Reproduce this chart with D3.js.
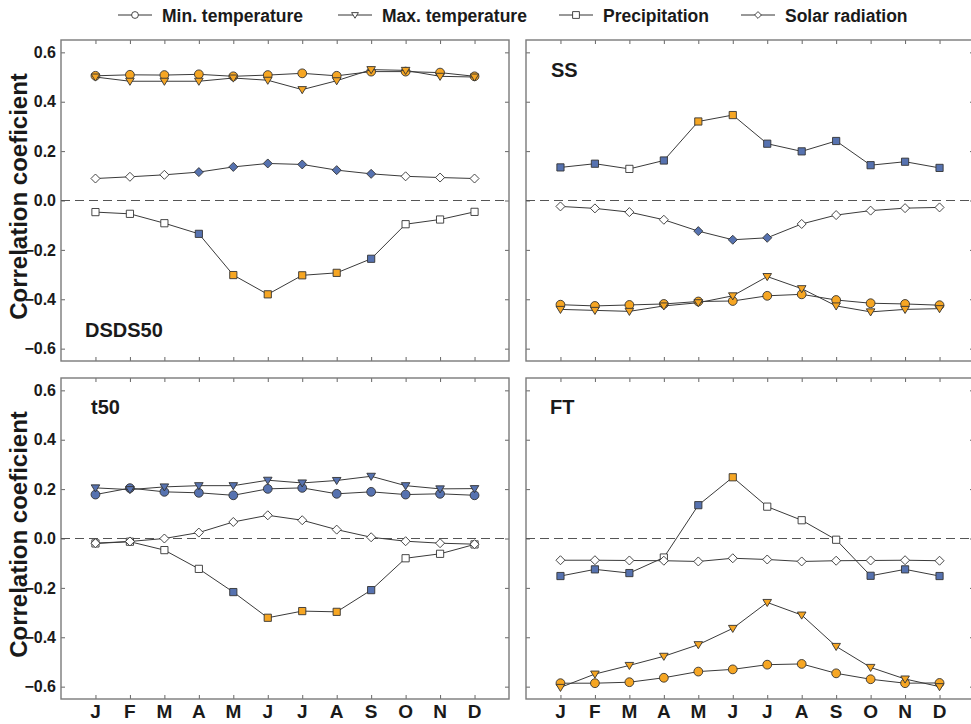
<!DOCTYPE html>
<html>
<head>
<meta charset="utf-8">
<script src="https://cdn.jsdelivr.net/npm/d3@7"></script>
<style>
  body { margin: 0; background: #fff; }
  text { font-family: "Liberation Sans", Arial, sans-serif; font-weight: bold; fill: #1a1a1a; }
</style>
</head>
<body>
<svg id="chart" width="971" height="724"></svg>
<script>
// month ticks and y ticks
const months = ["J", "F", "M", "A", "M", "J", "J", "A", "S", "O", "N", "D"];
const yTicks = [-0.6, -0.4, -0.2, 0.0, 0.2, 0.4, 0.6];

// DSDS50
const dsdsMin = [0.505, 0.509, 0.508, 0.511, 0.503, 0.508, 0.515, 0.505, 0.522, 0.522, 0.518, 0.503];
const dsdsMax = [0.500, 0.483, 0.483, 0.483, 0.496, 0.487, 0.449, 0.485, 0.530, 0.527, 0.503, 0.500];
const dsdsPrec = [-0.047, -0.054, -0.092, -0.135, -0.302, -0.380, -0.303, -0.293, -0.236, -0.096, -0.077, -0.046];
const dsdsSolar = [0.089, 0.096, 0.104, 0.115, 0.136, 0.150, 0.146, 0.123, 0.108, 0.098, 0.093, 0.089];
const dsdsMinSig = ["o","o","o","o","o","o","o","o","o","o","o","o"];
const dsdsMaxSig = ["o","o","o","o","o","o","o","o","o","o","o","o"];
const dsdsPrecSig = ["w","w","w","b","o","o","o","o","b","w","w","w"];
const dsdsSolarSig = ["w","w","w","b","b","b","b","b","b","w","w","w"];

// SS
const ssMin = [-0.422, -0.427, -0.423, -0.419, -0.409, -0.407, -0.386, -0.380, -0.403, -0.416, -0.419, -0.424];
const ssMax = [-0.441, -0.445, -0.449, -0.427, -0.414, -0.386, -0.308, -0.357, -0.427, -0.451, -0.441, -0.438];
const ssPrec = [0.134, 0.149, 0.128, 0.162, 0.320, 0.346, 0.230, 0.199, 0.241, 0.143, 0.157, 0.132];
const ssSolar = [-0.024, -0.032, -0.047, -0.078, -0.124, -0.159, -0.151, -0.095, -0.059, -0.041, -0.031, -0.028];
const ssMinSig = ["o","o","o","o","o","o","o","o","o","o","o","o"];
const ssMaxSig = ["o","o","o","o","o","o","o","o","o","o","o","o"];
const ssPrecSig = ["b","b","w","b","o","o","b","b","b","b","b","b"];
const ssSolarSig = ["w","w","w","w","b","b","b","w","w","w","w","w"];

// t50
const t50Min = [0.178, 0.204, 0.189, 0.185, 0.175, 0.201, 0.205, 0.181, 0.189, 0.178, 0.181, 0.175];
const t50Max = [0.205, 0.198, 0.209, 0.214, 0.214, 0.236, 0.225, 0.235, 0.252, 0.214, 0.201, 0.202];
const t50Prec = [-0.020, -0.013, -0.047, -0.123, -0.217, -0.321, -0.294, -0.297, -0.209, -0.080, -0.062, -0.024];
const t50Solar = [-0.019, -0.012, 0.000, 0.024, 0.067, 0.094, 0.074, 0.036, 0.005, -0.011, -0.019, -0.023];
const t50MinSig = ["b","b","b","b","b","b","b","b","b","b","b","b"];
const t50MaxSig = ["b","b","b","b","b","b","b","b","b","b","b","b"];
const t50PrecSig = ["w","w","w","w","b","o","o","o","b","w","w","w"];
const t50SolarSig = ["w","w","w","w","w","w","w","w","w","w","w","w"];

// FT
const ftMin = [-0.586, -0.586, -0.582, -0.564, -0.539, -0.530, -0.511, -0.508, -0.546, -0.570, -0.586, -0.585];
const ftMax = [-0.603, -0.549, -0.514, -0.477, -0.430, -0.364, -0.259, -0.310, -0.437, -0.522, -0.569, -0.600];
const ftPrec = [-0.152, -0.125, -0.140, -0.077, 0.135, 0.248, 0.129, 0.074, -0.005, -0.151, -0.125, -0.152];
const ftSolar = [-0.088, -0.088, -0.089, -0.090, -0.093, -0.080, -0.085, -0.093, -0.090, -0.089, -0.088, -0.090];
const ftMinSig = ["o","o","o","o","o","o","o","o","o","o","o","o"];
const ftMaxSig = ["o","o","o","o","o","o","o","o","o","o","o","o"];
const ftPrecSig = ["b","b","b","w","b","o","w","w","w","b","b","b"];
const ftSolarSig = ["w","w","w","w","w","w","w","w","w","w","w","w"];

const legendNames = ["Min. temperature", "Max. temperature", "Precipitation", "Solar radiation"];

const FILL = { o: "#f6a623", b: "#5672b0", w: "#ffffff" };
const PANEL_W = 448;
const PANEL_H = 321;

// custom marker shapes, size = half width in px
const symCircle = { draw(ctx, r) { ctx.moveTo(r, 0); ctx.arc(0, 0, r, 0, 2 * Math.PI); } };
const symTriangle = { draw(ctx, r) { ctx.moveTo(-r, -r * 0.7); ctx.lineTo(r, -r * 0.7); ctx.lineTo(0, r * 0.95); ctx.closePath(); } };
const symSquare = { draw(ctx, r) { ctx.rect(-r, -r, 2 * r, 2 * r); } };
const symDiamond = { draw(ctx, r) { ctx.moveTo(0, -r); ctx.lineTo(r, 0); ctx.lineTo(0, r); ctx.lineTo(-r, 0); ctx.closePath(); } };
const shapes = [symCircle, symTriangle, symSquare, symDiamond];
const shapeSize = [4.4, 4.3, 3.6, 4.5];

const panels = [
  { label: "DSDS50", x: 61, y: 40, lx: 24, ly: 297, yAxis: true, xAxis: false,
    series: [[dsdsMin, dsdsMinSig], [dsdsMax, dsdsMaxSig], [dsdsPrec, dsdsPrecSig], [dsdsSolar, dsdsSolarSig]] },
  { label: "SS", x: 526, y: 40, lx: 25, ly: 37, yAxis: false, xAxis: false,
    series: [[ssMin, ssMinSig], [ssMax, ssMaxSig], [ssPrec, ssPrecSig], [ssSolar, ssSolarSig]] },
  { label: "t50", x: 61, y: 378, lx: 30, ly: 36, yAxis: true, xAxis: true,
    series: [[t50Min, t50MinSig], [t50Max, t50MaxSig], [t50Prec, t50PrecSig], [t50Solar, t50SolarSig]] },
  { label: "FT", x: 526, y: 378, lx: 24, ly: 36, yAxis: false, xAxis: true,
    series: [[ftMin, ftMinSig], [ftMax, ftMaxSig], [ftPrec, ftPrecSig], [ftSolar, ftSolarSig]] }
];

const svg = d3.select("#chart");

const x = d3.scalePoint().domain(months.map((m, i) => i)).range([0, PANEL_W]).padding(1);
const y = d3.scaleLinear().domain([-0.65, 0.65]).range([PANEL_H, 0]);

panels.forEach(p => {
  const g = svg.append("g").attr("transform", "translate(" + p.x + "," + p.y + ")");

  // inward ticks on all four sides
  g.append("g").call(d3.axisBottom(x).tickSize(-4).tickFormat(""))
    .attr("transform", "translate(0," + PANEL_H + ")");
  g.append("g").call(d3.axisTop(x).tickSize(-4).tickFormat(""));
  g.append("g").call(d3.axisLeft(y).tickValues(yTicks).tickSize(-4).tickFormat(""));
  g.append("g").call(d3.axisRight(y).tickValues(yTicks).tickSize(-4).tickFormat(""))
    .attr("transform", "translate(" + PANEL_W + ",0)");
  g.selectAll(".domain").remove();
  g.selectAll(".tick line").attr("stroke", "#666").attr("stroke-width", 1);

  // frame
  g.append("rect").attr("width", PANEL_W).attr("height", PANEL_H)
    .attr("fill", "none").attr("stroke", "#7a7a7a").attr("stroke-width", 1.4);

  // zero line
  g.append("line").attr("x1", 0).attr("x2", PANEL_W).attr("y1", y(0)).attr("y2", y(0))
    .attr("stroke", "#555").attr("stroke-width", 1.2).attr("stroke-dasharray", "9,5");

  if (p.yAxis) {
    g.selectAll(".ylab").data(yTicks).join("text")
      .attr("x", -5).attr("y", d => y(d)).attr("dy", "0.36em")
      .attr("text-anchor", "end").style("font-size", "16px")
      .text(d => d3.format(".1f")(d));
    g.append("text")
      .attr("transform", "translate(-34," + (PANEL_H / 2 - 4) + ") rotate(-90)")
      .attr("text-anchor", "middle").style("font-size", "24px")
      .text("Correlation coeficient");
  }
  if (p.xAxis) {
    g.selectAll(".xlab").data(months).join("text")
      .attr("x", (d, i) => x(i)).attr("y", PANEL_H + 19)
      .attr("text-anchor", "middle").style("font-size", "19px")
      .text(d => d);
  }

  g.append("text").attr("x", p.lx).attr("y", p.ly).style("font-size", "20px").text(p.label);

  const line = d3.line().x((d, i) => x(i)).y(d => y(d));
  p.series.forEach((s, k) => {
    g.append("path").datum(s[0]).attr("d", line)
      .attr("fill", "none").attr("stroke", "#3a3a3a").attr("stroke-width", 1);
    g.selectAll(".m" + k).data(s[0]).join("path")
      .attr("transform", (d, i) => "translate(" + x(i) + "," + y(d) + ")")
      .attr("d", d3.symbol().type(shapes[k]).size(shapeSize[k]))
      .attr("fill", (d, i) => FILL[s[1][i]])
      .attr("stroke", "#333").attr("stroke-width", 0.9);
  });
});

// legend
const legendX = [135, 355, 576, 758];
const leg = svg.append("g");
legendNames.forEach((name, k) => {
  const cx = legendX[k];
  leg.append("line").attr("x1", cx - 17).attr("x2", cx + 17).attr("y1", 15).attr("y2", 15)
    .attr("stroke", "#333").attr("stroke-width", 1);
  leg.append("path").attr("transform", "translate(" + cx + ",15)")
    .attr("d", d3.symbol().type(shapes[k]).size(3.4))
    .attr("fill", "#fff").attr("stroke", "#333").attr("stroke-width", 0.9);
  leg.append("text").attr("x", cx + 27).attr("y", 21.5).style("font-size", "17.5px").text(name);
});
</script>
</body>
</html>
